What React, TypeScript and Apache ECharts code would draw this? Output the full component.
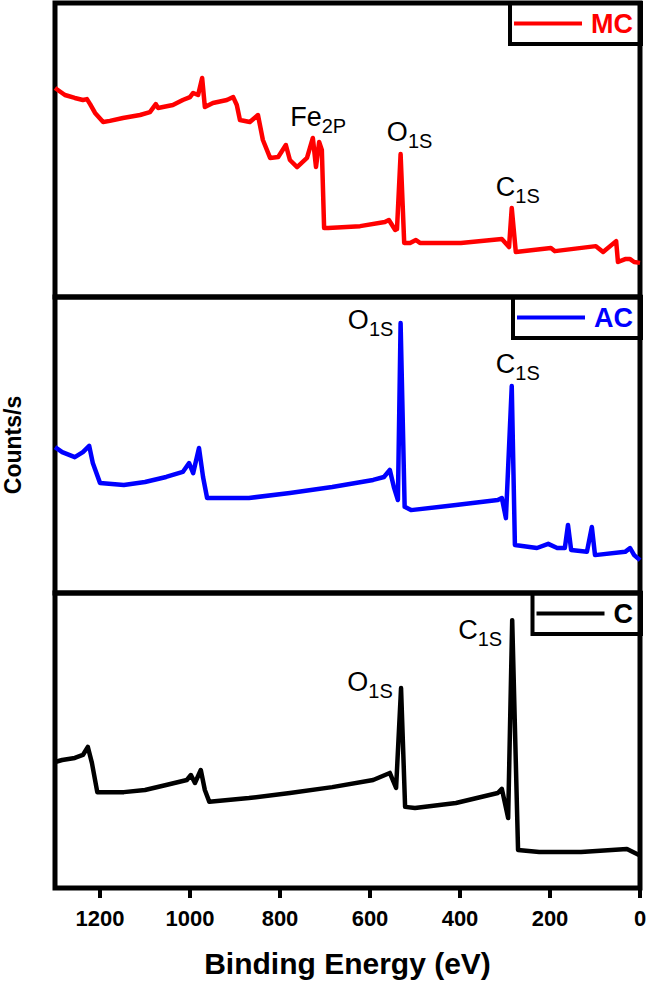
import React, { useEffect, useRef } from 'react';
import * as echarts from 'echarts';

const FONT = 'Arial, "Liberation Sans", Helvetica, sans-serif';

// Binding energy (eV) and intensity (arbitrary units, 0-100 per panel)
const energyMC = [1300,1278,1256,1238,1229,1222,1211,1193,1178,1149,1111,1089,1076,1071,1038,1016,1000,993,982,973,967,949,918,904,896,889,867,849,838,822,804,787,778,762,740,727,720,713,707,702,693,622,567,558,544,540,532,524,511,498,489,398,307,291,285,276,198,189,98,82,53,49,33,22,13,0];
const countsMC = [71.1,68.7,67.7,67.0,67.3,65.6,62.6,59.5,59.9,60.9,61.9,62.9,65.6,64.3,65.3,67.0,68.0,69.4,68.7,74.5,64.6,66.0,67.0,68.0,65.3,60.2,59.5,61.9,53.4,47.3,47.6,51.7,46.6,44.2,47.3,54.1,44.2,52.7,50.0,23.5,23.5,24.1,25.5,26.2,22.8,23.1,48.6,18.4,18.4,19.4,18.4,18.4,19.7,17.0,30.3,15.3,16.7,15.6,17.3,15.3,19.0,11.9,12.9,12.9,11.9,11.6];

const energyAC = [1300,1284,1256,1238,1224,1216,1200,1147,1100,1053,1016,1002,993,980,971,962,869,778,684,593,569,556,547,538,532,523,509,409,316,307,298,285,278,229,204,184,167,160,153,118,107,100,33,22,13,0];
const countsAC = [49.3,47.6,45.9,47.6,49.7,43.9,37.2,36.5,37.5,39.2,40.9,43.9,40.5,49.0,39.2,32.1,32.1,33.8,35.8,38.2,39.2,41.6,35.8,31.4,91.2,29.1,28.0,29.7,31.4,32.1,25.3,69.9,16.2,15.2,16.6,15.2,15.2,23.0,14.5,13.9,22.3,12.8,13.9,15.2,12.8,11.1];

const energyC = [1300,1284,1256,1238,1227,1218,1206,1147,1100,1053,1007,998,989,976,967,957,869,778,684,593,556,542,531,522,500,409,316,307,293,284,271,224,131,29,0];
const countsC = [42.7,43.4,44.1,45.1,47.8,42.4,32.5,32.5,33.2,34.9,36.6,38.3,35.6,40.0,33.2,29.2,30.5,32.2,34.2,36.6,39.0,33.9,67.8,27.5,27.1,28.8,32.2,33.6,23.7,90.8,12.9,12.2,12.2,13.2,11.0];

const seriesNames = ['MC', 'AC', 'C'];
const xTicks = [0, 200, 400, 600, 800, 1000, 1200];

// Peak annotations: element, subscript, energy of the peak
const peakMainMC = ['Fe', 'O', 'C'];
const peakSubMC = ['2P', '1S', '1S'];
const peakEnergyMC = [713, 532, 285];
const peakMainAC = ['O', 'C'];
const peakSubAC = ['1S', '1S'];
const peakEnergyAC = [532, 285];
const peakMainC = ['O', 'C'];
const peakSubC = ['1S', '1S'];
const peakEnergyC = [531, 284];

// label offsets (style only)
const offsetsMC = [[-1, -25], [9, -22], [6, -21]];
const offsetsAC = [[-30, -3], [6, -22]];
const offsetsC = [[-31, -6], [-32, 10]];

const colors = ['#ff0000', '#0000ff', '#000000'];
const tops = [3, 297, 593];
const heights = [294, 296, 295];

function zip(e: number[], c: number[]) {
  return e.map((x, i) => [x, c[i]]);
}

const rich = {
  m: { fontSize: 27, fontFamily: FONT, color: '#000' },
  s: { fontSize: 20, fontFamily: FONT, color: '#000', padding: [18, 0, 0, 0] },
};

function peaks(main: string[], sub: string[], en: number[], e: number[], c: number[], offs: number[][]) {
  return main.map((m, i) => ({
    name: m + sub[i],
    coord: [en[i], c[e.indexOf(en[i])]],
    label: {
      show: true,
      position: 'inside',
      offset: offs[i],
      formatter: '{m|' + m + '}{s|' + sub[i] + '}',
      rich,
    },
  }));
}

export default function App() {
  const ref = useRef<HTMLDivElement>(null);
  useEffect(() => {
    if (!ref.current) return;
    const chart = echarts.init(ref.current, undefined, { renderer: 'svg' });
    const dataSets = [
      [energyMC, countsMC, peaks(peakMainMC, peakSubMC, peakEnergyMC, energyMC, countsMC, offsetsMC)],
      [energyAC, countsAC, peaks(peakMainAC, peakSubAC, peakEnergyAC, energyAC, countsAC, offsetsAC)],
      [energyC, countsC, peaks(peakMainC, peakSubC, peakEnergyC, energyC, countsC, offsetsC)],
    ] as any[];
    const grids: any[] = tops.map((t, i) => ({
      left: 55, width: 585, top: t, height: heights[i],
      outerBoundsMode: 'none', containLabel: false,
      show: true, borderColor: '#000', borderWidth: 5, backgroundColor: 'transparent',
    }));
    // thin strip just under the bottom panel that carries the tick marks
    grids.push({
      left: 55, width: 585, top: 888, height: 20,
      outerBoundsMode: 'none', containLabel: false, show: false,
    });
    const xAxes: any[] = [0, 1, 2].map((i) => ({
      type: 'value', gridIndex: i, position: 'bottom', min: 0, max: 1300, interval: 200, inverse: true,
      show: i === 2,
      axisLine: { show: false },
      splitLine: { show: false },
      axisTick: { show: false },
      axisLabel: {
        show: true, margin: 19, customValues: xTicks,
        fontSize: 22, fontWeight: 'bold', fontFamily: FONT, color: '#000',
        formatter: (v: number) => String(v),
      },
      name: i === 2 ? 'Binding Energy (eV)' : '',
      nameLocation: 'middle', nameGap: 60,
      nameTextStyle: { fontSize: 30, fontWeight: 'bold', fontFamily: FONT, color: '#000' },
    }));
    xAxes.push({
      type: 'value', gridIndex: 3, position: 'top', min: 0, max: 1300, interval: 200, inverse: true,
      axisLine: { show: true, onZero: false, lineStyle: { color: '#000', width: 1 } },
      axisTick: { show: true, inside: true, length: 10, customValues: xTicks, lineStyle: { width: 4, color: '#000' } },
      axisLabel: { show: false },
      splitLine: { show: false },
    });
    const yAxes: any[] = [0, 1, 2].map((i) => ({
      type: 'value', gridIndex: i, min: 0, max: 100,
      show: i === 1,
      axisLine: { show: false }, axisTick: { show: false }, axisLabel: { show: false },
      splitLine: { show: false },
      name: i === 1 ? 'Counts/s' : '',
      nameLocation: 'middle', nameGap: 31, nameRotate: 90,
      nameTextStyle: { fontSize: 23, fontWeight: 'bold', fontFamily: FONT, color: '#000' },
    }));
    yAxes.push({
      type: 'value', gridIndex: 3, min: 0, max: 1, show: false,
      axisLine: { show: false }, axisTick: { show: false }, axisLabel: { show: false },
      splitLine: { show: false },
    });
    const option: any = {
      animation: false,
      backgroundColor: '#ffffff',
      grid: grids,
      xAxis: xAxes,
      yAxis: yAxes,
      legend: seriesNames.map((n, i) => ({
        data: [{ name: n, textStyle: { color: colors[i] } }],
        right: 5, top: tops[i], orient: 'horizontal', icon: 'rect',
        itemWidth: 68, itemHeight: 4, selectedMode: false,
        padding: [7, 8, 7, 4], borderColor: '#000', borderWidth: 4, borderRadius: 0,
        backgroundColor: 'transparent',
        textStyle: { fontSize: 27, fontWeight: 'bold', fontFamily: FONT, padding: [0, 0, 0, 4] },
      })),
      series: seriesNames.map((n, i) => ({
        type: 'line', name: n, xAxisIndex: i, yAxisIndex: i,
        data: zip(dataSets[i][0], dataSets[i][1]),
        showSymbol: false, symbol: 'none',
        lineStyle: { color: colors[i], width: 4.5, join: 'round' },
        itemStyle: { color: colors[i] },
        markPoint: {
          symbol: 'rect', symbolSize: 0.1,
          itemStyle: { color: 'rgba(0,0,0,0)' },
          data: dataSets[i][2],
        },
      })),
    };
    chart.setOption(option);
    return () => chart.dispose();
  }, []);
  return <div ref={ref} style={{ position: 'absolute', left: 0, top: 0, width: 646, height: 986 }} />;
}
